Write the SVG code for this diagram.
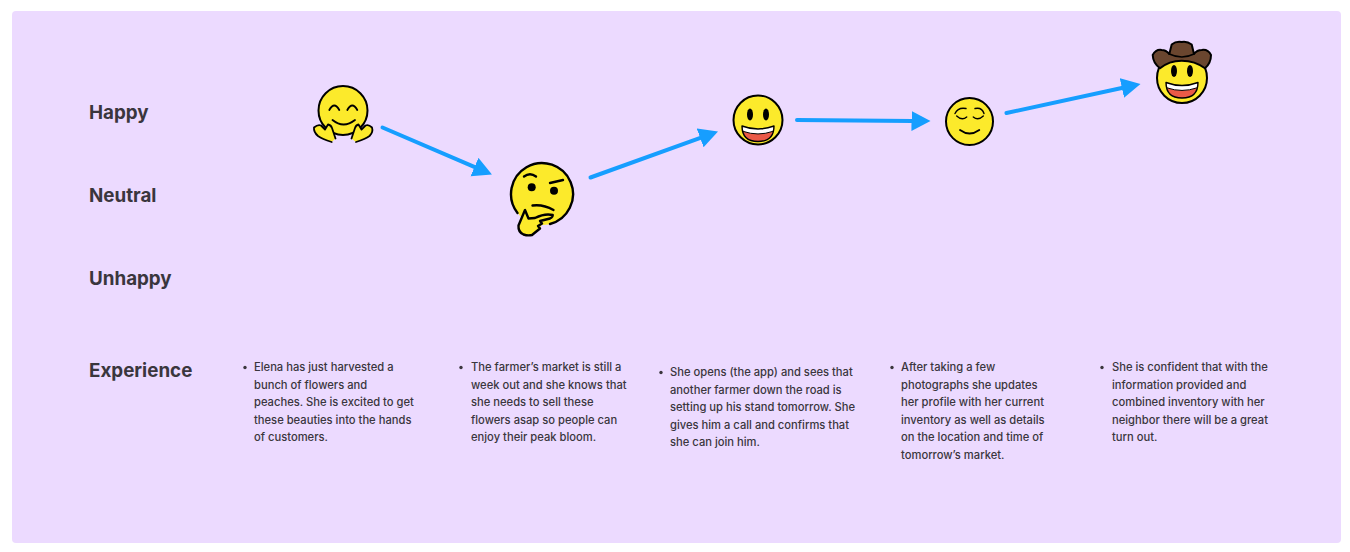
<svg xmlns="http://www.w3.org/2000/svg" width="1350" height="552" viewBox="0 0 1350 552">
<style>
.lab{font-family:Inter,"Liberation Sans",sans-serif;font-weight:650;font-size:18.8px;fill:#3a363d}
.body{font-family:Inter,"Liberation Sans",sans-serif;font-weight:450;font-size:11.2px;fill:#3a363d}
.conn{fill:none;stroke:#169eff;stroke-width:4;stroke-linecap:round}
.face{fill:#fcea2b;stroke:#000;stroke-width:2}
.fill{fill:#fcea2b}
.ln{fill:none;stroke:#000;stroke-width:1.800;stroke-linecap:round;stroke-linejoin:round}
.thin{stroke-width:1.400}
.hair{stroke-width:1}
.bold{stroke-width:2.400}
.eye{fill:#000}
</style>
<defs>
<marker id="head" markerUnits="userSpaceOnUse" markerWidth="20" markerHeight="22" refX="1" refY="10.500" orient="auto">
<path d="M0 0.500L19 10.500L0 20.500z" fill="#169eff"/>
</marker>
<g id="grin">
<ellipse cx="-8" cy="-5.500" rx="3" ry="6" class="eye"/>
<ellipse cx="8" cy="-5.500" rx="3" ry="6" class="eye"/>
<path d="M-16 6Q0 12 16 6Q16 21.500 0 21.500Q-16 21.500-16 6z" fill="#ea5a47"/>
<path d="M-16 6Q0 12 16 6L14.500 11.500Q0 16.500-14.500 11.500z" fill="#fff"/>
<path d="M-16 6Q0 12 16 6Q16 21.500 0 21.500Q-16 21.500-16 6z" class="ln thin"/>
<path d="M-14.500 11.500Q0 16.500 14.500 11.500" class="ln hair"/>
</g>
</defs>
<rect width="1350" height="552" fill="#fff"/>
<rect x="12" y="11" width="1329" height="532" rx="4" fill="#ecdaff"/>
<g id="labels">
<text class="lab" x="89" y="118.500">Happy</text>
<text class="lab" x="89" y="201.500">Neutral</text>
<text class="lab" x="89" y="284.500">Unhappy</text>
<text class="lab" x="89" y="377">Experience</text>
</g>
<g id="connectors">
<line class="conn" x1="382.500" y1="127.500" x2="475.400" y2="167.400" marker-end="url(#head)"/>
<line class="conn" x1="590.500" y1="177.500" x2="701.100" y2="137.600" marker-end="url(#head)"/>
<line class="conn" x1="797" y1="120" x2="912.500" y2="120.900" marker-end="url(#head)"/>
<line class="conn" x1="1006.500" y1="113" x2="1122.900" y2="87.800" marker-end="url(#head)"/>
</g>
<g id="node-hug">
<circle class="face" cx="343" cy="110.500" r="24.500"/>
<path class="ln" d="M329.300 110Q334.300 101 339.300 110M347.300 110Q352.300 101 357.300 110M332.500 120Q343.500 129 355 120"/>
<path class="fill" d="M331.700 142Q322 139 318 136Q313.500 132 314 127.500Q318 124 321 125.500L325 129.500L328 124.500Q331 125 332 128L335.500 138.500z"/>
<path class="ln" d="M331.700 142Q322 139 318 136Q313.500 132 314 127.500Q318 124 321 125.500L325 129.500L328 124.500Q331 125 332 128L335.500 138.500"/>
<path class="fill" d="M356 142Q365.500 139 369.500 136Q373.500 132 372 127.500Q368.500 124 365.500 125.500L361.500 129.500L358.500 124.500Q356 125 355 128L351.500 138.500z"/>
<path class="ln" d="M356 142Q365.500 139 369.500 136Q373.500 132 372 127.500Q368.500 124 365.500 125.500L361.500 129.500L358.500 124.500Q356 125 355 128L351.500 138.500"/>
</g>
<g id="node-thinking">
<circle class="fill" cx="542" cy="194" r="31"/>
<path class="ln bold" d="M550 224A31 31 0 1 0 517.500 213"/>
<path class="ln bold" d="M524 176.500Q530 172 536 176.500M550 183L563 180M532.500 205.500Q543 204 553.500 210"/>
<circle class="eye" cx="531.700" cy="187.300" r="4"/>
<circle class="eye" cx="554" cy="190.700" r="4"/>
<path class="fill" d="M552.700 215Q545 213 535 218L528.500 218.500L525 210L518.500 225.500Q518 232 523.500 234.500Q528 236 532 235L540 228.500L542 223.500L550 218.500z"/>
<path class="ln bold" d="M552.700 215Q545 213 535 218L528.500 218.500L525 210L518.500 225.500Q518 232 523.500 234.500Q528 236 532 235L540 228.500L538 226L542 223.500L540 221L550 218.500Q553 217 552.700 215"/>
</g>
<g id="node-grin">
<circle class="face" cx="758" cy="120" r="24.500"/>
<use href="#grin" x="758" y="120"/>
</g>
<g id="node-relieved">
<circle class="face" cx="969.500" cy="121.500" r="23.500"/>
<path class="ln thin" d="M956.700 116Q962 121 966.700 117M955 113.500Q958 107 966 108.500M973.300 117Q978 121 983.300 116M975 108.500Q982 107 984 113.500"/>
<path class="ln" d="M960 130Q969.500 137 979.300 130"/>
</g>
<g id="node-cowboy">
<circle class="face" cx="1182" cy="78" r="25"/>
<use href="#grin" x="1182" y="76.500"/>
<path d="M1152.700 55Q1156 49 1161.700 50Q1166 50 1169.300 54L1171.700 44.500Q1176 41 1181.700 42Q1187 41 1191.700 44.500L1194 54Q1197 50 1201.700 50Q1208 49 1211 55Q1211 63 1205 68.300Q1195 60.700 1181.700 60.700Q1169 60.700 1160 68.300Q1153 63 1152.700 55z" fill="#6a462f" stroke="#000" stroke-width="2" stroke-linejoin="round"/>
<path class="ln thin" d="M1169.300 54Q1182 60 1194 54"/>
</g>
<g id="experience-1">
<circle cx="245" cy="367.500" r="1.700" fill="#3a363d"/>
<text class="body" x="254" y="371">Elena has just harvested a</text>
<text class="body" x="254" y="388.500">bunch of flowers and</text>
<text class="body" x="254" y="406">peaches. She is excited to get</text>
<text class="body" x="254" y="423.500">these beauties into the hands</text>
<text class="body" x="254" y="441">of customers.</text>
</g>
<g id="experience-2">
<circle cx="461" cy="367.500" r="1.700" fill="#3a363d"/>
<text class="body" x="471" y="371">The farmer’s market is still a</text>
<text class="body" x="471" y="388.500">week out and she knows that</text>
<text class="body" x="471" y="406">she needs to sell these</text>
<text class="body" x="471" y="423.500">flowers asap so people can</text>
<text class="body" x="471" y="441">enjoy their peak bloom.</text>
</g>
<g id="experience-3">
<circle cx="661" cy="372.500" r="1.700" fill="#3a363d"/>
<text class="body" x="670" y="376">She opens (the app) and sees that</text>
<text class="body" x="670" y="393.500">another farmer down the road is</text>
<text class="body" x="670" y="411">setting up his stand tomorrow. She</text>
<text class="body" x="670" y="428.500">gives him a call and confirms that</text>
<text class="body" x="670" y="446">she can join him.</text>
</g>
<g id="experience-4">
<circle cx="892" cy="367.500" r="1.700" fill="#3a363d"/>
<text class="body" x="901" y="371">After taking a few</text>
<text class="body" x="901" y="388.500">photographs she updates</text>
<text class="body" x="901" y="406">her profile with her current</text>
<text class="body" x="901" y="423.500">inventory as well as details</text>
<text class="body" x="901" y="441">on the location and time of</text>
<text class="body" x="901" y="458.500">tomorrow’s market.</text>
</g>
<g id="experience-5">
<circle cx="1102" cy="367.500" r="1.700" fill="#3a363d"/>
<text class="body" x="1112" y="371">She is confident that with the</text>
<text class="body" x="1112" y="388.500">information provided and</text>
<text class="body" x="1112" y="406">combined inventory with her</text>
<text class="body" x="1112" y="423.500">neighbor there will be a great</text>
<text class="body" x="1112" y="441">turn out.</text>
</g>
</svg>
